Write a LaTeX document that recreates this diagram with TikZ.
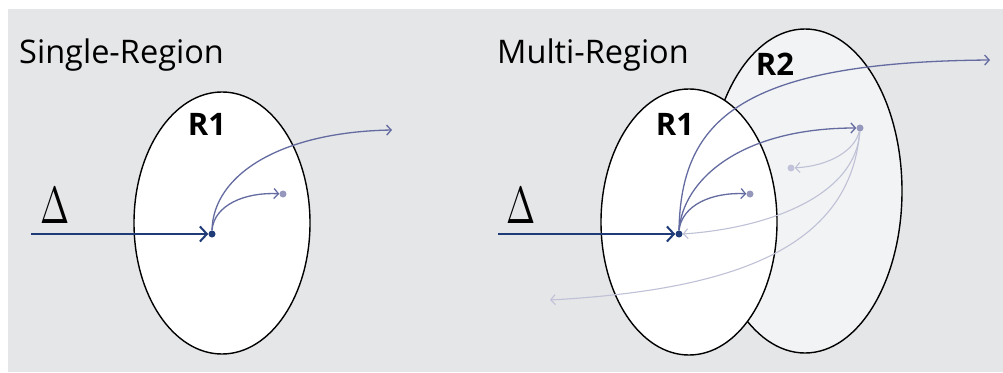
\documentclass[tikz,border=0pt]{standalone}
\usepackage{fontspec}
\setmainfont{Open Sans}
\usetikzlibrary{arrows.meta,shapes.geometric}

\definecolor{panelbg}{HTML}{E5E6E8}
\definecolor{rtwofill}{HTML}{F2F3F4}
\definecolor{inflow}{HTML}{1F3C78}
\definecolor{flow}{HTML}{646BA0}
\definecolor{flowdot}{HTML}{9597BD}
\definecolor{faint}{HTML}{BFC1D6}
\definecolor{faintdot}{HTML}{C2C3DA}

\newcommand{\bigdelta}{\scalebox{3.5}[5.2]{$\Delta$}}

\tikzset{
  region/.style={draw=black, line width=1.4pt, ellipse, inner sep=0pt},
  title/.style={anchor=base west, inner sep=0pt, font=\fontsize{32.5}{38}\selectfont},
  rlabel/.style={inner sep=0pt, font=\fontsize{31}{36}\selectfont\bfseries},
  deltalabel/.style={inner sep=0pt},
  maindot/.style={circle, fill=inflow, inner sep=0pt, minimum size=7pt},
  softdot/.style={circle, fill=flowdot, inner sep=0pt, minimum size=7pt},
  paledot/.style={circle, fill=faintdot, inner sep=0pt, minimum size=7pt},
  inarrow/.style={draw=inflow, line width=2pt, -{Straight Barb[length=7pt,width=15pt,line width=2pt]}},
  flowarrow/.style={draw=flow, line width=1.3pt, -{Straight Barb[length=4.5pt,width=10pt,line width=1.3pt]}},
  faintarrow/.style={draw=faint, line width=1.1pt, -{Straight Barb[length=4.5pt,width=10pt,line width=1.1pt]}},
}

\begin{document}
\begin{tikzpicture}[x=1pt,y=-1pt]
\useasboundingbox (0,0) rectangle (1003,372);
\fill[panelbg] (8,9) rectangle (1003,372);

% ---------- single region ----------
\node[title] (t1) at (19,63) {Single-Region};
\node[region, fill=white, minimum width=176pt, minimum height=262pt] (a1) at (222,223) {};
\node[rlabel] (la1) at (207,124) {R1};
\node[deltalabel] (d1) at (55,206) {\bigdelta};

\coordinate (s1) at (31,234);
\node[maindot] (p1) at (212,234) {};
\node[softdot] (q1) at (283,194) {};
\coordinate (e1) at (392,130);

\draw[inarrow] (s1) -- (p1);
\draw[flowarrow] (p1.north) .. controls (213,175) and (280,132) .. (e1);
\draw[flowarrow] (p1.north) .. controls (214,205) and (245,192) .. (q1);

% ---------- multiple regions ----------
\node[title] (t2) at (497,63) {Multi-Region};
\node[region, fill=rtwofill, minimum width=194pt, minimum height=324pt] (b2) at (805,191) {};
\node[region, fill=white, minimum width=176pt, minimum height=266pt] (b1) at (689,222) {};
\node[rlabel] (lb2) at (775,64) {R2};
\node[rlabel] (lb1) at (675,124) {R1};
\node[deltalabel] (d2) at (521,206) {\bigdelta};

\coordinate (s2) at (498,234);
\node[maindot] (p2) at (679,234) {};
\node[softdot] (q2) at (750,194) {};
\node[softdot] (h2) at (860,128) {};
\node[paledot] (g2) at (791,168) {};
\coordinate (e2) at (990,60);
\coordinate (w2) at (550,300);

% faint flows leaving R2
\draw[faintarrow] (h2) .. controls (855,150) and (830,166) .. (g2);
\draw[faintarrow] (h2) .. controls (856,195) and (770,228) .. (p2.east);
\draw[faintarrow] (h2) .. controls (850,250) and (730,290) .. (w2);

% flows leaving the entry point
\draw[inarrow] (s2) -- (p2);
\draw[flowarrow] (p2.north) .. controls (681,120) and (740,62) .. (e2);
\draw[flowarrow] (p2.north) .. controls (683,180) and (740,128) .. (h2);
\draw[flowarrow] (p2.north) .. controls (682,205) and (712,192) .. (q2);
\end{tikzpicture}
\end{document}
